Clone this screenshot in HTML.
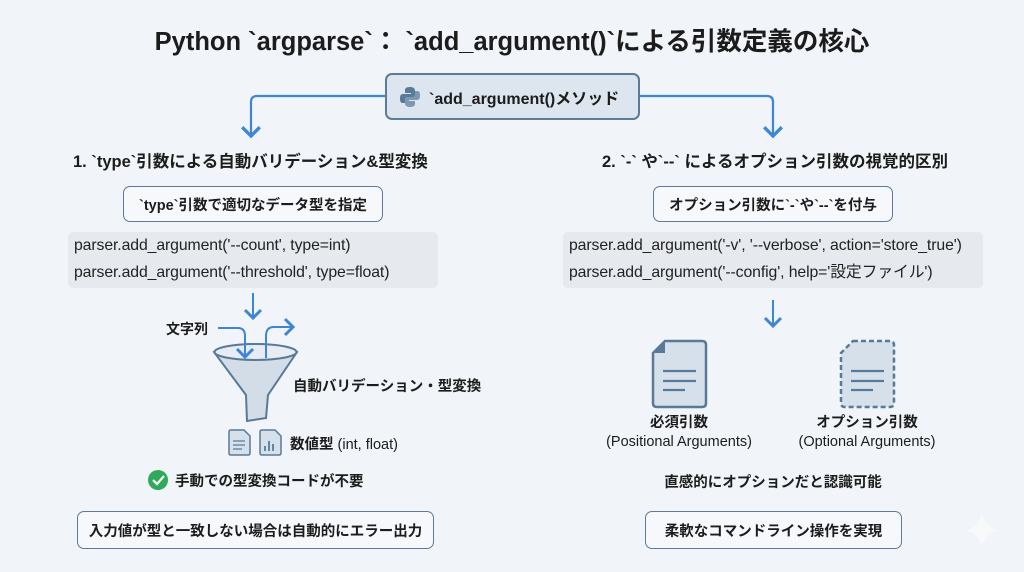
<!DOCTYPE html>
<html><head><meta charset="utf-8"><style>
*{margin:0;padding:0;box-sizing:border-box}
body{width:1024px;height:572px;overflow:hidden;background:#f1f4f8;font-family:"Liberation Sans","Noto Sans CJK JP",sans-serif;color:#1c1c1c;position:relative}
.a{position:absolute;white-space:nowrap}
.b{font-weight:bold}
.box{position:absolute;border:1.5px solid #5d7a96;border-radius:7px;background:#f6f8fb;display:flex;align-items:center;justify-content:center;font-weight:bold;font-size:14.5px}
.code{position:absolute;background:#e6e9ed;border-radius:5px;font-size:15.8px;color:#222;padding-left:6px;letter-spacing:-0.1px}
.code div{height:27px;line-height:27px}
.c{transform:translateX(-50%);text-align:center}
</style></head><body>
<div class="a b c" style="left:512px;top:21px;font-size:25.5px">Python `argparse`： `add_argument()`による引数定義の核心</div>

<svg class="a" style="left:0;top:0" width="1024" height="572">
<defs><marker id="m" markerWidth="10" markerHeight="10" refX="5" refY="5" orient="auto"><path d="M1,1 L5,5 L1,9" fill="none" stroke="#3d86d6" stroke-width="1.5"/></marker></defs>
<path d="M386,96 H257 Q251,96 251,102 V136" fill="none" stroke="#3d86d6" stroke-width="2.2" marker-end="url(#m)"/>
<path d="M639,96 H767 Q773,96 773,102 V136" fill="none" stroke="#3d86d6" stroke-width="2.2" marker-end="url(#m)"/>
<path d="M253,293 V318" stroke="#3d86d6" stroke-width="2" fill="none" marker-end="url(#m)"/>
<path d="M773,300 V326" stroke="#3d86d6" stroke-width="2" fill="none" marker-end="url(#m)"/>
<path d="M214,352 Q255,336 297,352 L268,395 L266,418 L247,421 L246,395 Z" fill="#d3dde8" stroke="#587a98" stroke-width="2"/>
<ellipse cx="255.5" cy="352" rx="41" ry="8" fill="#e6ecf2" stroke="#587a98" stroke-width="2"/>
<path d="M218,328 H238 Q245,328 245,336 V357" fill="none" stroke="#3d86d6" stroke-width="2" marker-end="url(#m)"/>
<path d="M266,358 V336 Q266,327 274,327 H293" fill="none" stroke="#3d86d6" stroke-width="2" marker-end="url(#m)"/>
<path d="M231,430 H244 L250,436 V453 Q250,455 248,455 H231 Q229,455 229,453 V432 Q229,430 231,430Z" fill="#d6e0ea" stroke="#587a98" stroke-width="1.5"/>
<path d="M233,441H245M233,445H245M233,449H242" stroke="#587a98" stroke-width="1.3"/>
<path d="M262,430 H275 L281,436 V453 Q281,455 279,455 H262 Q260,455 260,453 V432 Q260,430 262,430Z" fill="#d6e0ea" stroke="#587a98" stroke-width="1.5"/>
<path d="M265,451V446M269,451V441M273,451V444" stroke="#587a98" stroke-width="1.8"/>
<circle cx="158" cy="480" r="10" fill="#2eaa5a"/>
<path d="M153,480 L157,484 L164,476" fill="none" stroke="#fff" stroke-width="2.2"/>
<path d="M665,341 H702 Q706,341 706,345 V403 Q706,407 702,407 H657 Q653,407 653,403 V353 Z" fill="#d6e0ea" stroke="#587a98" stroke-width="2.5"/>
<path d="M665,341 L653,353 H665Z" fill="#587a98"/>
<path d="M663,371H696M663,381H696M663,390H685" stroke="#587a98" stroke-width="2.2"/>
<path d="M853,341 H890 Q894,341 894,345 V403 Q894,407 890,407 H845 Q841,407 841,403 V353 Z" fill="#d6e0ea" stroke="#587a98" stroke-width="2.5" stroke-dasharray="5,3"/>
<path d="M851,371H884M851,381H884M851,390H873" stroke="#587a98" stroke-width="2.2"/>
<path d="M982,512 Q985,527 998,530 Q985,533 982,548 Q979,533 966,530 Q979,527 982,512Z" fill="#f7f9fb"/>
</svg>

<div class="box" style="left:385px;top:73px;width:255px;height:47px;background:#dde6ef;border-width:2px;font-size:16px;justify-content:flex-start;padding-left:12px">
<svg width="22" height="22" viewBox="0 0 22 22" style="margin-right:8px"><path d="M11,1 C6,1 6,3 6,5 V7 H12 V8 H4 C1,8 1,11 1,13 C1,16 2,17 4,17 H6 V14 C6,12 7,11 9,11 H14 C16,11 16,10 16,8 V5 C16,2 14,1 11,1Z" fill="#5b7a99"/><path d="M11,21 C16,21 16,19 16,17 V15 H10 V14 H18 C21,14 21,11 21,9 C21,6 20,5 18,5 H16 V8 C16,10 15,11 13,11 H8 C6,11 6,12 6,14 V17 C6,20 8,21 11,21Z" fill="#7f98b2"/></svg>`add_argument()メソッド</div>

<div class="a b" style="left:73px;top:148px;font-size:16.5px">1. `type`引数による自動バリデーション&amp;型変換</div>
<div class="box" style="left:123px;top:186px;width:260px;height:36px">`type`引数で適切なデータ型を指定</div>
<div class="code" style="left:68px;top:232px;width:370px;height:56px"><div>parser.add_argument('--count', type=int)</div><div>parser.add_argument('--threshold', type=float)</div></div>

<div class="a b" style="left:166px;top:319px;font-size:14px">文字列</div>
<div class="a b" style="left:293px;top:375px;font-size:14.5px">自動バリデーション・型変換</div>
<div class="a" style="left:290px;top:433px;font-size:14.5px"><b>数値型</b> (int, float)</div>
<div class="a b" style="left:175px;top:470px;font-size:14.5px">手動での型変換コードが不要</div>
<div class="box" style="left:77px;top:511px;width:357px;height:38px">入力値が型と一致しない場合は自動的にエラー出力</div>

<div class="a b" style="left:602px;top:148px;font-size:16.5px">2. `-` や`--` によるオプション引数の視覚的区別</div>
<div class="box" style="left:653px;top:186px;width:240px;height:36px">オプション引数に`-`や`--`を付与</div>
<div class="code" style="left:563px;top:232px;width:420px;height:56px"><div>parser.add_argument('-v', '--verbose', action='store_true')</div><div>parser.add_argument('--config', help='設定ファイル')</div></div>

<div class="a c" style="left:679px;top:414px;font-size:14.5px;line-height:19px"><b>必須引数</b><br>(Positional Arguments)</div>
<div class="a c" style="left:867px;top:414px;font-size:14.5px;line-height:19px"><b>オプション引数</b><br>(Optional Arguments)</div>
<div class="a b c" style="left:773px;top:471px;font-size:14.5px">直感的にオプションだと認識可能</div>
<div class="box" style="left:645px;top:511px;width:257px;height:38px">柔軟なコマンドライン操作を実現</div>
</body></html>
